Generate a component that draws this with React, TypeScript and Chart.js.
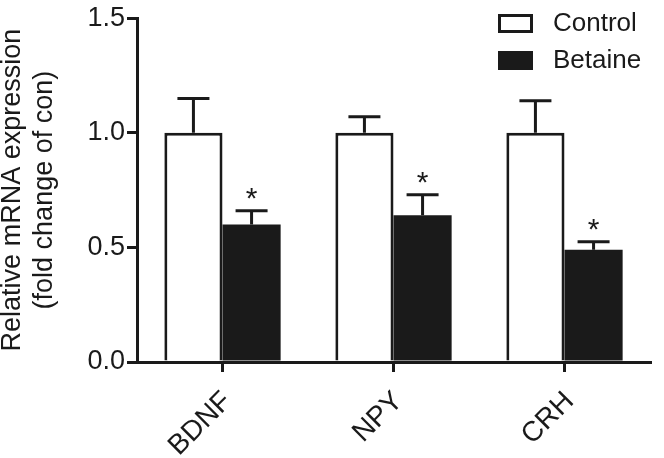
import React, { useEffect, useRef } from "react";
import { Chart, registerables } from "chart.js";

Chart.register(...registerables);

const categories = ["BDNF", "NPY", "CRH"];
const seriesNames = ["Control", "Betaine"];
const controlValues = [1.0, 1.0, 1.0];
const controlErrors = [0.15, 0.07, 0.14];
const betaineValues = [0.6, 0.64, 0.49];
const betaineErrors = [0.06, 0.09, 0.035];
const betaineMarks = ["*", "*", "*"];
const yTitle = ["Relative mRNA expression", "(fold change of con)"];
const yMin = 0;
const yMax = 1.5;
const yStep = 0.5;

const FONT = "Arial, 'Liberation Sans', Helvetica, sans-serif";
const INK = "#1a1a1a";

const errorBarPlugin = {
  id: "errorBars",
  afterDatasetsDraw(chart: any) {
    const ctx = chart.ctx;
    const yScale = chart.scales.y;
    const errs = [controlErrors, betaineErrors];
    const marks = [null, betaineMarks];
    chart.data.datasets.forEach((ds: any, i: number) => {
      const meta = chart.getDatasetMeta(i);
      meta.data.forEach((bar: any, j: number) => {
        const v = ds.data[j];
        const e = errs[i][j];
        const yTop = yScale.getPixelForValue(v);
        const yErr = yScale.getPixelForValue(v + e);
        ctx.save();
        ctx.strokeStyle = INK;
        ctx.lineWidth = 3;
        ctx.beginPath();
        ctx.moveTo(bar.x, yTop);
        ctx.lineTo(bar.x, yErr);
        ctx.moveTo(bar.x - 16, yErr);
        ctx.lineTo(bar.x + 16, yErr);
        ctx.stroke();
        const m = marks[i] ? (marks[i] as string[])[j] : "";
        if (m) {
          ctx.fillStyle = INK;
          ctx.font = `30px ${FONT}`;
          ctx.textAlign = "center";
          ctx.textBaseline = "alphabetic";
          ctx.fillText(m, bar.x, yErr - 3);
        }
        ctx.restore();
      });
    });
  },
};

const legendPlugin = {
  id: "customLegend",
  afterDraw(chart: any) {
    const ctx = chart.ctx;
    const area = chart.chartArea;
    const boxX = area.right - 152;
    const rows = [
      { y: 14, fill: "#ffffff" },
      { y: 51, fill: INK },
    ];
    ctx.save();
    rows.forEach((r, i) => {
      ctx.fillStyle = r.fill;
      ctx.strokeStyle = INK;
      ctx.lineWidth = 3;
      ctx.fillRect(boxX, r.y, 35, 19);
      ctx.strokeRect(boxX + 1.5, r.y + 1.5, 32, 16);
      ctx.fillStyle = INK;
      ctx.font = `26px ${FONT}`;
      ctx.textAlign = "left";
      ctx.textBaseline = "middle";
      ctx.fillText(seriesNames[i], boxX + 55, r.y + 10);
    });
    ctx.restore();
  },
};

export default function App() {
  const ref = useRef<HTMLCanvasElement | null>(null);
  useEffect(() => {
    if (!ref.current) return;
    const chart = new Chart(ref.current, {
      type: "bar",
      data: {
        labels: categories,
        datasets: [
          {
            label: seriesNames[0],
            data: controlValues,
            backgroundColor: "#ffffff",
            borderColor: INK,
            borderWidth: 3,
            categoryPercentage: 0.68,
            barPercentage: 1.0,
          },
          {
            label: seriesNames[1],
            data: betaineValues,
            backgroundColor: INK,
            borderColor: INK,
            borderWidth: 0,
            categoryPercentage: 0.68,
            barPercentage: 1.0,
          },
        ],
      },
      options: {
        responsive: false,
        animation: false,
        layout: { padding: { top: 15, right: 14, left: 0, bottom: 0 } },
        plugins: {
          legend: { display: false },
          tooltip: { enabled: false },
        },
        scales: {
          x: {
            offset: true,
            grid: {
              display: true,
              offset: false,
              drawOnChartArea: false,
              drawTicks: true,
              tickLength: 10,
              tickColor: INK,
              lineWidth: 3,
            },
            border: { display: true, color: INK, width: 3 },
            ticks: {
              minRotation: 45,
              maxRotation: 45,
              color: INK,
              padding: 13,
              labelOffset: 5,
              font: { size: 28, family: FONT },
            },
            afterFit: (s: any) => {
              s.height = 96;
            },
          },
          y: {
            min: yMin,
            max: yMax,
            grid: {
              display: true,
              drawOnChartArea: false,
              drawTicks: true,
              tickLength: 10,
              tickColor: INK,
              lineWidth: 3,
            },
            border: { display: true, color: INK, width: 3 },
            ticks: {
              stepSize: yStep,
              color: INK,
              padding: 2,
              font: { size: 27, family: FONT },
              callback: (v: any) => Number(v).toFixed(1),
            },
            title: {
              display: true,
              text: yTitle,
              color: INK,
              font: { size: 27, family: FONT, lineHeight: 32 / 27 },
              padding: { top: -3, bottom: 0 },
            },
            afterFit: (s: any) => {
              s.width = 137;
            },
          },
        },
      },
      plugins: [errorBarPlugin, legendPlugin],
    });
    return () => chart.destroy();
  }, []);
  return (
    <div style={{ position: "absolute", left: 0, top: 0, width: 664, height: 458, background: "#fff" }}>
      <canvas ref={ref} width={664} height={458} />
    </div>
  );
}
